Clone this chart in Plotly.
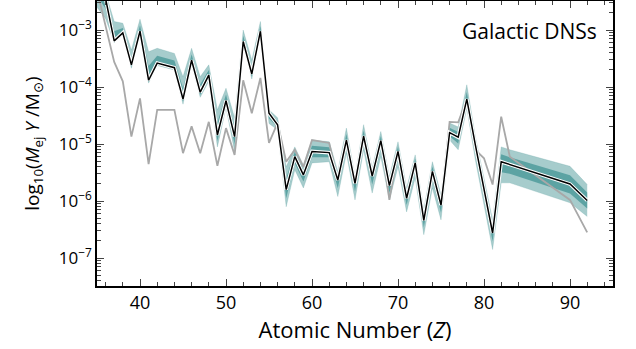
import plotly.graph_objects as go
import numpy as np

# Atomic numbers present in the data
Z = [35, 36, 37, 38, 39, 40, 41, 42, 44, 45, 46, 47, 48, 49, 50, 51, 52, 53, 54,
     55, 56, 57, 58, 59, 60, 62, 63, 64, 65, 66, 67, 68, 69, 70, 71, 72, 73, 74,
     75, 76, 77, 78, 79, 80, 81, 82, 83, 90, 92]

# log10(M_ej Y / Msun): median of Galactic DNS samples (black)
median_log = [-2.2, -2.45, -3.19, -3.05, -3.61, -3.02, -3.88, -3.58, -3.66, -4.21,
              -3.53, -4.09, -3.79, -4.84, -4.24, -4.87, -3.20, -3.77, -3.02,
              -4.46, -4.66, -5.80, -5.22, -5.54, -5.13, -5.15, -5.63, -4.93, -5.69,
              -4.86, -5.56, -4.94, -5.73, -5.13, -5.95, -5.33, -6.34, -5.48,
              -6.07, -4.80, -4.88, -4.21, -5.02, -5.81, -6.56, -5.31, -5.36, -5.70, -5.99]

# upper / lower edges of the spread of samples (teal)
upper_log = [-2.1, -2.35, -2.85, -2.88, -3.35, -2.81, -3.38, -3.32, -3.41, -3.82,
             -3.32, -3.82, -3.61, -4.40, -4.02, -4.54, -3.00, -3.53, -2.85,
             -4.40, -4.54, -5.40, -5.05, -5.37, -4.93, -4.96, -5.48, -4.72, -5.57,
             -4.66, -5.42, -4.78, -5.57, -4.96, -5.77, -5.19, -6.15, -5.31,
             -5.89, -4.63, -4.70, -3.96, -4.87, -5.63, -6.33, -5.05, -5.10, -5.39, -5.71]
lower_log = [-2.6, -2.80, -3.22, -3.08, -3.67, -3.05, -3.93, -3.62, -3.70, -4.30,
             -3.60, -4.18, -3.90, -5.05, -4.36, -5.13, -3.24, -3.86, -3.06,
             -4.64, -4.75, -6.10, -5.45, -5.77, -5.33, -5.31, -5.92, -5.16, -5.98,
             -5.10, -5.86, -5.22, -5.98, -5.40, -6.19, -5.59, -6.59, -5.77,
             -6.33, -4.93, -5.10, -4.37, -5.28, -6.10, -6.85, -5.68, -5.68, -6.03, -6.27]

# solar r-process reference (gray)
solar_log = [-2.3, -2.92, -3.56, -3.90, -4.87, -4.20, -5.35, -4.40, -4.40, -5.16,
             -4.69, -5.16, -4.61, -5.38, -4.72, -5.19, -3.88, -4.46, -3.84,
             -4.98, -4.63, -5.31, -5.10, -5.40, -4.93, -4.98, -5.63, -4.93, -5.69,
             -4.86, -5.56, -4.94, -5.98, -5.13, -5.95, -5.33, -6.34, -5.48,
             -6.07, -4.61, -4.62, -4.21, -5.10, -5.25, -5.71, -4.52, -5.22, -5.98, -6.55]

x_ticks = [40, 50, 60, 70, 80, 90]
y_tick_exp = [-7, -6, -5, -4, -3]
y_tick_text = ["10<sup>\u2212%d</sup>" % (-e) for e in y_tick_exp]

med = np.power(10.0, median_log)
up = np.power(10.0, upper_log)
lo = np.power(10.0, lower_log)
sol = np.power(10.0, solar_log)
inner_up = np.power(10.0, (np.array(upper_log) + np.array(median_log)) / 2)
inner_lo = np.power(10.0, (np.array(lower_log) + np.array(median_log)) / 2)

fig = go.Figure()
# outer band
fig.add_trace(go.Scatter(x=Z, y=lo, mode="lines", line=dict(width=0.8, color="rgba(90,160,160,0.3)"),
                         showlegend=False, hoverinfo="skip"))
fig.add_trace(go.Scatter(x=Z, y=up, mode="lines", fill="tonexty", fillcolor="rgba(92,163,163,0.55)",
                         line=dict(width=0.8, color="rgba(90,160,160,0.3)"), showlegend=False, hoverinfo="skip"))
# inner denser band
fig.add_trace(go.Scatter(x=Z, y=inner_lo, mode="lines", line=dict(width=0, color="rgba(0,0,0,0)"),
                         showlegend=False, hoverinfo="skip"))
fig.add_trace(go.Scatter(x=Z, y=inner_up, mode="lines", fill="tonexty", fillcolor="rgba(74,152,152,0.8)",
                         line=dict(width=0, color="rgba(0,0,0,0)"), showlegend=False, hoverinfo="skip"))
# gray solar
fig.add_trace(go.Scatter(x=Z, y=sol, mode="lines", line=dict(width=1.8, color="#a8a8a8"),
                         showlegend=False, hoverinfo="skip"))
# median: white outline then black
fig.add_trace(go.Scatter(x=Z, y=med, mode="lines", line=dict(width=3.6, color="white"),
                         showlegend=False, hoverinfo="skip"))
fig.add_trace(go.Scatter(x=Z, y=med, mode="lines", line=dict(width=1.5, color="black"),
                         showlegend=False, hoverinfo="skip"))

font_family = "Open Sans, DejaVu Sans, sans-serif"

fig.update_layout(
    width=636, height=349,
    margin=dict(l=97, r=23, t=1, b=63, autoexpand=False),
    paper_bgcolor="white", plot_bgcolor="white",
    font=dict(family=font_family, size=18, color="black"),
    annotations=[dict(text="Galactic DNSs", xref="paper", yref="paper", x=0.972, y=0.895,
                      xanchor="right", yanchor="middle", showarrow=False,
                      font=dict(size=21, family=font_family))],
)
fig.update_xaxes(
    range=[35, 95], tickvals=x_ticks, ticks="inside", ticklen=7, tickwidth=1.2,
    showline=True, linecolor="black", linewidth=1.5, mirror="ticks", showgrid=False, zeroline=False,
    minor=dict(ticks="inside", ticklen=4, dtick=2, tickwidth=1, showgrid=False),
    title=dict(text="Atomic Number (<i>Z</i>)", standoff=4), tickfont=dict(size=18),
    automargin=False,
)
fig.update_yaxes(
    type="log", range=[-7.49, -2.49], tickvals=[10.0**e for e in y_tick_exp], ticktext=y_tick_text,
    ticks="inside", ticklen=7, tickwidth=1.2,
    showline=True, linecolor="black", linewidth=1.5, mirror="ticks", showgrid=False, zeroline=False,
    minor=dict(ticks="inside", ticklen=4, dtick="D1", tickwidth=1, showgrid=False),
    title=dict(text="log<sub>10</sub>(<i>M</i><sub>ej</sub> <i>Y</i> /M<sub>\u2299</sub>)", standoff=14,
               font=dict(size=19)),
    tickfont=dict(size=17), automargin=False,
)

fig.write_html("out.html", config={"displayModeBar": False},
               post_script="document.body.style.margin='0';document.body.style.padding='0';")
